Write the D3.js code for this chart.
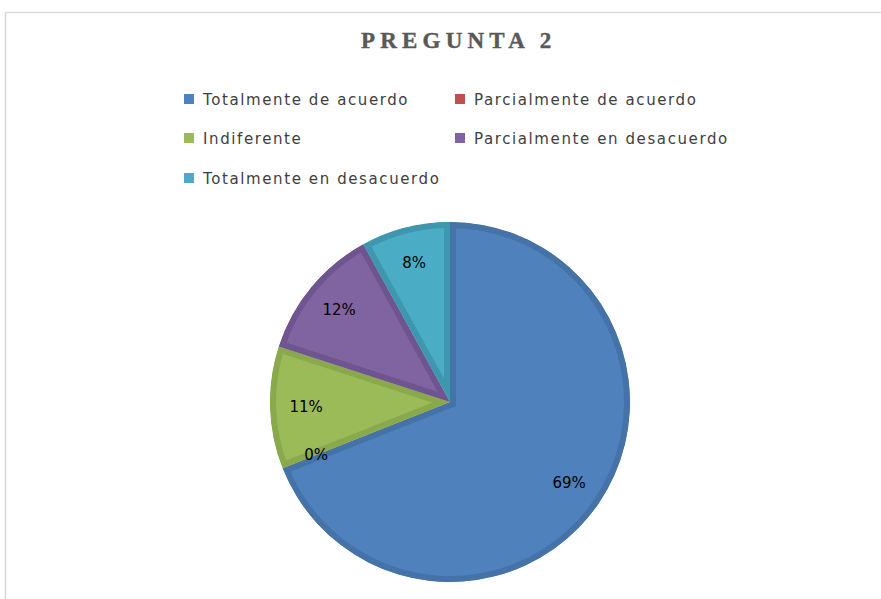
<!DOCTYPE html>
<html><head><meta charset="utf-8">
<script src="https://cdn.jsdelivr.net/npm/d3@7"></script>
<style>body{margin:0;background:#fff}svg{display:block}</style>
</head><body>
<script>
const categories = ["Totalmente de acuerdo","Parcialmente de acuerdo","Indiferente","Parcialmente en desacuerdo","Totalmente en desacuerdo"];
const values = [69,0,11,12,8];
const labels = ["69%","0%","11%","12%","8%"];
const colors = ["#4F81BD","#C0504D","#9BBB59","#8064A2","#4BACC6"];
const strokeColors = ["#4572A7","#A8403D","#8AA84C","#6F558F","#3F97AF"];
const title = "PREGUNTA 2";

const W=881,H=599;
const svg=d3.select("body").append("svg").attr("width",W).attr("height",H);
// chart frame
svg.append("rect").attr("x",5.5).attr("y",12.5).attr("width",W+10).attr("height",H+10)
  .attr("fill","#fff").attr("stroke","#d9d9d9").attr("stroke-width",1.5);

svg.append("text").attr("x",361).attr("y",48)
  .attr("font-family","Liberation Serif").attr("font-weight","bold").attr("font-size",23)
  .attr("letter-spacing",5.2).attr("fill","#595959").attr("stroke","#595959").attr("stroke-width",0.4)
  .text(title);

// legend
const legPos=[[184,99],[455,99],[184,138],[455,138],[184,178]];
const leg=svg.append("g");
categories.forEach((c,i)=>{
  const g=leg.append("g").attr("transform",`translate(${legPos[i][0]},${legPos[i][1]})`);
  g.append("rect").attr("x",0).attr("y",-5).attr("width",10).attr("height",10).attr("fill",colors[i]);
  g.append("text").attr("x",19).attr("y",5.5).attr("font-family","DejaVu Sans").attr("font-size",15)
    .attr("letter-spacing",1.6).attr("fill","#404040").text(c);
});

const cx=450,cy=402,R=180;
const pie=d3.pie().sort(null).value(d=>d)(values);
const arc=d3.arc().innerRadius(0).outerRadius(R);
const g=svg.append("g").attr("transform",`translate(${cx},${cy})`);
const defs=svg.append("defs");
pie.forEach((p,i)=>{
  defs.append("clipPath").attr("id","c"+i).append("path").attr("d",arc(p));
  g.append("path").attr("d",arc(p)).attr("fill",colors[i]).attr("stroke",strokeColors[i])
    .attr("stroke-width",p.value>0?12:0).attr("clip-path",`url(#c${i})`);
});
const labArc=d3.arc().innerRadius(R*0.8).outerRadius(R*0.8);
pie.forEach((p,i)=>{
  const [x,y]=labArc.centroid(p);
  g.append("text").attr("x",x).attr("y",y).attr("dy","0.35em").attr("text-anchor","middle")
    .attr("font-family","DejaVu Sans").attr("font-size",15).attr("fill","#000").text(labels[i]);
});
</script>
</body></html>
